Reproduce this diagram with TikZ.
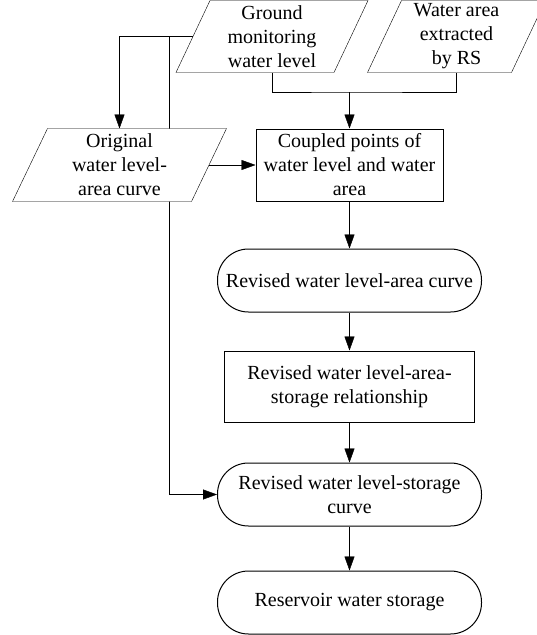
\documentclass[tikz,border=0pt]{standalone}
\usepackage{fontspec}
\setmainfont{Liberation Serif}
\usetikzlibrary{arrows.meta,calc}
\pgfdeclarelayer{bg}
\pgfdeclarelayer{mid}
\pgfsetlayers{bg,mid,main}
\begin{document}
\begin{tikzpicture}[x=1pt,y=-1pt,line width=1pt,
  every node/.style={font=\fontsize{20}{24}\selectfont, align=center, inner sep=0pt},
  pgram/.style={},
  rectbox/.style={draw, fill=white},
  stad/.style={draw, fill=white, rounded corners=31pt, minimum width=264pt, minimum height=63pt},
  arr/.style={-{Triangle[length=14pt,width=10pt]}}]
\useasboundingbox (0,0) rectangle (536,635);
% parallelogram text nodes
\node[pgram, minimum width=191pt, minimum height=71pt] (g) at (272,36.5) {Ground\\monitoring\\water level};
\node[pgram, minimum width=177pt, minimum height=71pt] (w) at (456.5,36.5) {Water area\\extracted\\by RS};
\node[pgram, minimum width=213pt, minimum height=72pt] (o) at (119.5,165) {Original\\water level-\\area curve};
% boxes
\node[rectbox, minimum width=187pt, minimum height=72pt] (c) at (349.5,165) {Coupled points of\\water level and water\\area};
\node[stad] (r1) at (349.5,280.5) {Revised water level-area curve};
\node[rectbox, minimum width=250pt, minimum height=71pt] (r2) at (349.5,386.5) {Revised water level-area-\\storage relationship};
\node[stad] (r3) at (349.5,494.5) {Revised water level-storage\\curve};
\node[stad] (r4) at (349.5,602.5) {Reservoir water storage};
% parallelogram outlines
\begin{pgfonlayer}{mid}
\foreach \n/\d in {g/34,w/34,o/35}
  \draw[fill=white] (\n.south west) -- ([xshift=-\d pt]\n.south east) -- (\n.north east) -- ([xshift=\d pt]\n.north west) -- cycle;
\end{pgfonlayer}
% connector points
\coordinate (gl) at ($(g.west)+(17pt,0pt)$);
\coordinate (tap) at (169,36.5);
\coordinate (orr) at ($(o.east)+(-17.5pt,0pt)$);
\coordinate (jn) at (349.5,92);
\begin{pgfonlayer}{bg}
\draw (g.south) |- (jn) -| (w.south);
\draw[arr] (jn) -- (c.north);
\draw[arr] (gl) -| (o.north);
\draw[arr] (tap) |- (r3.west);
\end{pgfonlayer}
\draw[arr] (orr) -- (c.west);
\draw[arr] (c.south) -- (r1.north);
\draw[arr] (r1.south) -- (r2.north);
\draw[arr] (r2.south) -- (r3.north);
\draw[arr] (r3.south) -- (r4.north);
\end{tikzpicture}
\end{document}
